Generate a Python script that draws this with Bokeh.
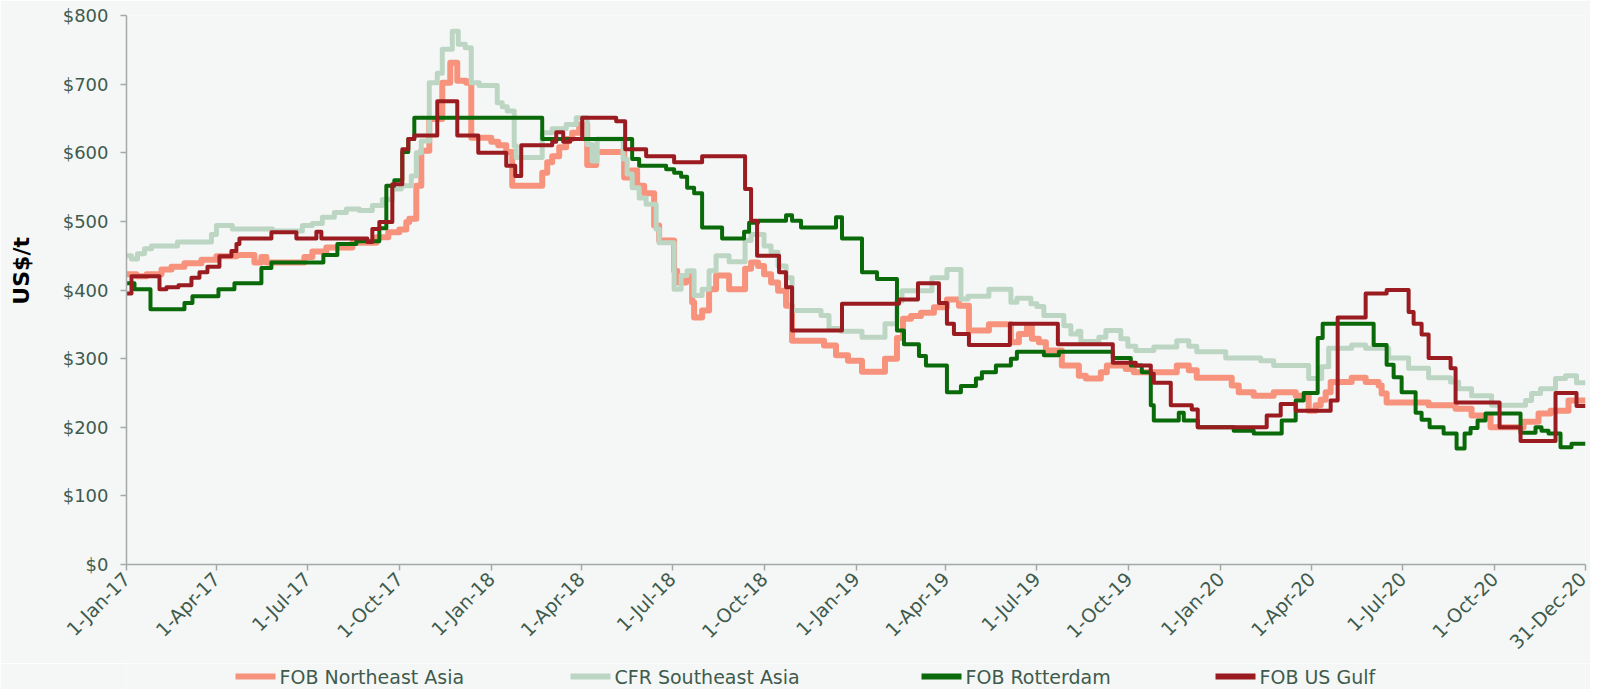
import math
import pandas as pd
from bokeh.plotting import figure
from bokeh.layouts import column
from bokeh.models import FixedTicker, Range1d
from bokeh.core.properties import value
from bokeh.embed import file_html
from bokeh.resources import INLINE

# ---------------- data (day offsets from 1-Jan-2017, US$/t) ----------------
START = pd.Timestamp("2017-01-01")
END_DAY = 1460

tick_dates = ["2017-01-01", "2017-04-01", "2017-07-01", "2017-10-01",
              "2018-01-01", "2018-04-01", "2018-07-01", "2018-10-01",
              "2019-01-01", "2019-04-01", "2019-07-01", "2019-10-01",
              "2020-01-01", "2020-04-01", "2020-07-01", "2020-10-01",
              "2020-12-31"]
tick_labels = ["1-Jan-17", "1-Apr-17", "1-Jul-17", "1-Oct-17",
               "1-Jan-18", "1-Apr-18", "1-Jul-18", "1-Oct-18",
               "1-Jan-19", "1-Apr-19", "1-Jul-19", "1-Oct-19",
               "1-Jan-20", "1-Apr-20", "1-Jul-20", "1-Oct-20",
               "31-Dec-20"]

series_names = ["FOB Northeast Asia", "CFR Southeast Asia", "FOB Rotterdam", "FOB US Gulf"]

ne_days = [0, 10, 20, 35, 45, 58, 75, 90, 110, 128, 135, 140, 170, 178, 186, 200, 226, 250, 262,
           273, 280, 283, 290, 295, 303, 316, 324, 331, 340, 345, 365, 372, 380, 386, 416, 421,
           426, 433, 440, 446, 453, 461, 470, 498, 505, 511, 518, 528, 533, 548, 551, 560, 566,
           568, 576, 583, 590, 603, 619, 625, 632, 638, 645, 652, 660, 666, 698, 710, 722, 736,
           759, 771, 777, 785, 795, 808, 821, 833, 843, 863, 885, 893, 901, 906, 913, 920, 936,
           953, 960, 975, 981, 1000, 1008, 1051, 1063, 1071, 1106, 1113, 1128, 1148, 1170, 1183,
           1190, 1195, 1200, 1205, 1226, 1240, 1253, 1256, 1261, 1303, 1330, 1346, 1365, 1398,
           1413, 1425, 1443]
ne_vals = [423, 420, 423, 430, 434, 439, 444, 449, 451, 440, 448, 440, 440, 448, 456, 462, 469, 477, 484,
           488, 499, 504, 552, 603, 649, 702, 731, 705, 702, 622, 616, 611, 601, 552, 571, 586,
           595, 608, 620, 629, 641, 582, 601, 564, 574, 552, 541, 494, 472, 428, 411, 420, 382,
           360, 370, 401, 421, 401, 431, 440, 435, 423, 411, 399, 377, 326, 319, 305, 297, 281,
           300, 330, 358, 362, 367, 375, 386, 377, 341, 350, 324, 336, 346, 329, 324, 312, 290,
           275, 271, 280, 290, 285, 280, 290, 283, 272, 261, 251, 246, 251, 246, 224,
           232, 240, 251, 266, 272, 266, 261, 249, 236, 232, 227, 217, 200, 208,
           220, 224, 239]

se_days = [0, 5, 11, 18, 25, 51, 85, 90, 106, 146, 176, 186, 196, 208, 220, 233, 246, 256, 266,
           275, 285, 290, 295, 303, 311, 316, 326, 332, 339, 345, 353, 371, 376, 381, 388, 390,
           416, 426, 440, 450, 461, 466, 471, 497, 501, 506, 513, 520, 530, 533, 548, 555, 561,
           568, 576, 583, 590, 603, 619, 625, 638, 645, 652, 660, 666, 695, 703, 715, 736, 759,
           771, 776, 806, 821, 835, 842, 863, 885, 891, 905, 911, 918, 938, 945, 952, 955, 973,
           980, 995, 1002, 1010, 1028, 1051, 1063, 1071, 1100, 1135, 1148, 1183, 1196, 1203,
           1226, 1240, 1263, 1283, 1303, 1325, 1333, 1346, 1366, 1400, 1406, 1415, 1430, 1440, 1451]
se_vals = [450, 445, 453, 460, 464, 470, 481, 494, 489, 486, 494, 497, 506, 513, 518, 516, 523, 532, 547,
           552, 566, 600, 617, 702, 716, 751, 777, 758, 753, 702, 698, 673, 667, 661, 610, 593,
           629, 635, 641, 651, 612, 588, 620, 591, 569, 549, 534, 525, 489, 469, 401, 421, 428,
           392, 401, 428, 450, 441, 472, 481, 464, 455, 435, 418, 370, 363, 344, 340, 331, 351,
           384, 399, 418, 430, 387, 391, 401, 382, 388, 380, 376, 363, 348, 336, 340, 325, 331,
           341, 329, 318, 312, 317, 326, 318, 310, 301, 297, 290, 271, 288, 315,
           320, 315, 301, 286, 272, 266, 256, 246, 232, 239, 249, 256, 271, 275, 265]

rot_days = [0, 8, 24, 58, 66, 92, 108, 135, 145, 197, 211, 230, 253, 260, 268, 276, 282, 288, 416,
            506, 513, 540, 548, 555, 561, 568, 576, 596, 618, 623, 632, 660, 666, 675, 710, 716,
            736, 751, 771, 778, 793, 800, 821, 835, 850, 856, 870, 885, 891, 918, 933, 987, 1005,
            1016, 1025, 1028, 1053, 1058, 1072, 1108, 1128, 1156, 1170, 1178, 1192, 1197, 1248,
            1261, 1268, 1276, 1290, 1296, 1304, 1318, 1331, 1339, 1345, 1352, 1360, 1395, 1410,
            1416, 1423, 1435, 1446]
rot_vals = [410, 401, 372, 381, 391, 401, 410, 432, 440, 451, 467, 471, 490, 552, 560, 601, 620, 651, 620,
            591, 581, 576, 571, 565, 549, 541, 491, 475, 485, 498, 501, 509, 501, 491, 506, 475,
            426, 416, 341, 321, 304, 290, 251, 260, 271, 280, 290, 300, 310, 305, 310, 301, 290,
            280, 232, 210, 221, 210, 200, 195, 191, 210, 239, 250, 330, 351, 320,
            291, 273, 251, 221, 211, 200, 191, 169, 191, 199, 210, 220, 192, 200,
            195, 191, 171, 176]

us_days = [0, 5, 33, 40, 52, 65, 73, 81, 93, 105, 110, 113, 145, 170, 190, 195, 241, 246, 253,
           266, 276, 282, 288, 311, 331, 352, 380, 389, 395, 426, 430, 437, 444, 456, 490, 499,
           520, 548, 576, 619, 625, 631, 653, 660, 666, 716, 773, 792, 813, 821, 828, 843, 884,
           932, 987, 1010, 1025, 1028, 1045, 1066, 1072, 1141, 1155, 1170, 1205, 1212, 1240,
           1261, 1283, 1288, 1296, 1303, 1325, 1330, 1374, 1395, 1430, 1451]
us_vals = [395, 420, 401, 404, 407, 418, 426, 434, 449, 457, 467, 475, 484, 475, 485, 475, 470, 489, 499,
           554, 605, 620, 625, 675, 625, 600, 581, 566, 611, 616, 630, 616, 620, 651, 646, 605,
           595, 586, 595, 547, 501, 450, 426, 404, 341, 380, 386, 410, 381, 351, 336, 320, 351,
           321, 294, 290, 278, 265, 232, 226, 200, 217, 234, 224, 239, 360, 395,
           400, 368, 351, 335, 301, 286, 236, 200, 180, 250, 231]

y_ticks = [0, 100, 200, 300, 400, 500, 600, 700, 800]

# ---------------- styling / layout ----------------
colors = ["#f7937d", "#bdd6c4", "#0a6a0a", "#9a1b20"]
widths = [6.0, 5.0, 4.0, 4.0]
TEXT_COLOR = "#3e5b4d"
BG = "#f5f7f6"
FONT = "DejaVu Sans"
NB = "\u00a0"
W = 1590
BL, BR = 126, 5            # left / right borders -> frame 1459 px wide
MAIN_H = 663
LEG_H = 26
LEG_Y = 0.5
legend_x = [235, 570, 921, 1215]   # screen x of each legend key (layout, not data)

p = figure(width=W, height=MAIN_H, output_backend="svg", toolbar_location=None,
           x_range=Range1d(0, END_DAY), y_range=Range1d(0, 800),
           min_border_left=BL, min_border_right=BR, min_border_top=15, min_border_bottom=98)
p.background_fill_color = BG
p.border_fill_color = BG
p.outline_line_color = None
p.grid.visible = False

def stepxy(days, vals):
    return list(days) + [END_DAY], list(vals) + [vals[-1]]

for (d, v), c, w in zip([(ne_days, ne_vals), (se_days, se_vals), (rot_days, rot_vals), (us_days, us_vals)],
                        colors, widths):
    x, y = stepxy(d, v)
    p.step(x, y, mode="after", line_color=c, line_width=w, line_join="round")

# x axis
tick_pos = [int((pd.Timestamp(t) - START).days) for t in tick_dates]
p.xaxis.ticker = FixedTicker(ticks=tick_pos)
p.xaxis.major_label_overrides = {tp: lab for tp, lab in zip(tick_pos, tick_labels)}
p.xaxis.major_label_orientation = math.pi / 4
p.xaxis.minor_tick_line_color = None

# y axis
p.yaxis.ticker = FixedTicker(ticks=y_ticks)
p.yaxis.major_label_overrides = {v: f"${v}" for v in y_ticks}
p.yaxis.minor_tick_line_color = None
p.yaxis.axis_label = NB * 5 + "US$/t"
p.yaxis.axis_label_text_font = FONT
p.yaxis.axis_label_text_font_style = "bold"
p.yaxis.axis_label_text_font_size = "22px"
p.yaxis.axis_label_text_color = "#000000"
p.yaxis.axis_label_standoff = 26

for ax in (p.xaxis, p.yaxis):
    ax.axis_line_color = "#a3aaa6"
    ax.axis_line_width = 1.5
    ax.major_tick_line_color = "#a3aaa6"
    ax.major_tick_line_width = 1.5
    ax.major_tick_out = 6
    ax.major_tick_in = 0
    ax.major_label_text_font = FONT
    ax.major_label_text_color = TEXT_COLOR
p.xaxis.major_label_text_font_size = "19px"
p.yaxis.major_label_text_font_size = "18px"
p.xaxis.major_label_standoff = 5
p.yaxis.major_label_standoff = 12

# legend strip (separate small figure; x range equals screen pixels of its frame)
lg = figure(width=W, height=LEG_H, output_backend="svg", toolbar_location=None,
            x_axis_location=None, y_axis_location=None,
            x_range=Range1d(BL, W - BR), y_range=Range1d(0, 1),
            min_border_left=BL, min_border_right=BR, min_border_top=0, min_border_bottom=0)
lg.grid.visible = False
lg.outline_line_color = None
lg.background_fill_color = BG
lg.border_fill_color = BG
for lx, name, c in zip(legend_x, series_names, colors):
    lg.line([lx, lx + 40], [LEG_Y, LEG_Y], line_color=c, line_width=6)
    lg.text([lx + 44], [LEG_Y], text=[name], text_font=value(FONT), text_font_size="19px",
            text_color=TEXT_COLOR, text_baseline="middle", text_align="left")

open("out.html", "w").write(file_html(column(p, lg, spacing=0), INLINE))
